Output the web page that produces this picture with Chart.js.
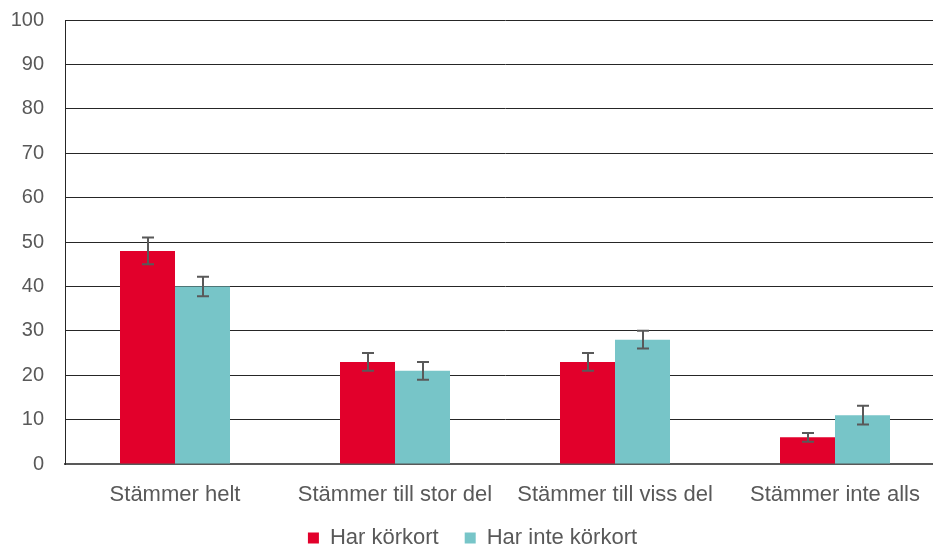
<!DOCTYPE html>
<html>
<head>
<meta charset="utf-8">
<script src="https://cdn.jsdelivr.net/npm/chart.js@4"></script>
<style>
    html, body { margin: 0; padding: 0; background: #fff; overflow: hidden; }
    #wrap { width: 945px; height: 549px; }
</style>
</head>
<body>
<div id="wrap"><canvas id="barChart"></canvas></div>
<script>
// Data
const categories = ['Stämmer helt', 'Stämmer till stor del', 'Stämmer till viss del', 'Stämmer inte alls'];
const seriesNames = ['Har körkort', 'Har inte körkort'];
const harKorkort = [48, 23, 23, 6];
const harKorkortErr = [3, 2, 2, 1];
const harInteKorkort = [40, 21, 28, 11];
const harInteKorkortErr = [2.2, 2, 2, 2.1];
const yTicks = [0, 10, 20, 30, 40, 50, 60, 70, 80, 90, 100];

const textColor = '#595959';
const fontFamily = 'Liberation Sans, Arial, sans-serif';

// Draw error bars using the chart's own scales
const errorBars = {
    id: 'errorBars',
    afterDatasetsDraw(chart) {
        const ctx = chart.ctx;
        const yScale = chart.scales.y;
        ctx.save();
        ctx.strokeStyle = '#595959';
        ctx.lineWidth = 2;
        chart.data.datasets.forEach(function (ds, i) {
            const meta = chart.getDatasetMeta(i);
            meta.data.forEach(function (bar, j) {
                const v = ds.data[j];
                const e = ds.errors[j];
                const yTop = yScale.getPixelForValue(v + e);
                const yBot = yScale.getPixelForValue(v - e);
                const x = Math.round(bar.x);
                ctx.beginPath();
                ctx.moveTo(x, yTop);
                ctx.lineTo(x, yBot);
                ctx.moveTo(x - 6, yTop);
                ctx.lineTo(x + 6, yTop);
                ctx.moveTo(x - 6, yBot);
                ctx.lineTo(x + 6, yBot);
                ctx.stroke();
            });
        });
        ctx.restore();
    }
};

document.addEventListener("DOMContentLoaded", function () {
    const barCtx = document.getElementById('barChart').getContext('2d');

    new Chart(barCtx, {
        type: 'bar',
        data: {
            labels: categories,
            datasets: [{
                label: seriesNames[0],
                data: harKorkort,
                errors: harKorkortErr,
                backgroundColor: '#E2002B',
                categoryPercentage: 0.5,
                barPercentage: 1
            }, {
                label: seriesNames[1],
                data: harInteKorkort,
                errors: harInteKorkortErr,
                backgroundColor: '#77C5C8',
                categoryPercentage: 0.5,
                barPercentage: 1
            }]
        },
        options: {
            responsive: true,
            maintainAspectRatio: false,
            animation: false,
            layout: { padding: { top: 20, left: 0, right: 0, bottom: 0 } },
            plugins: {
                tooltip: { enabled: false },
                legend: {
                    position: 'bottom',
                    maxHeight: 48,
                    labels: {
                        color: textColor,
                        boxWidth: 11,
                        boxHeight: 11,
                        padding: 26,
                        font: { size: 22, family: fontFamily }
                    }
                }
            },
            scales: {
                x: {
                    grid: { display: false },
                    border: { display: true, color: '#595959', width: 2 },
                    afterFit: function (axis) { axis.height = 37; },
                    ticks: {
                        color: textColor,
                        padding: 10,
                        maxRotation: 0,
                        font: { size: 22, family: fontFamily }
                    }
                },
                y: {
                    min: 0,
                    max: 100,
                    afterFit: function (axis) {
                        axis.width = 65;
                        axis.paddingTop = 0;
                        axis.paddingBottom = 0;
                    },
                    afterBuildTicks: function (axis) {
                        axis.ticks = yTicks.map(function (v) { return { value: v }; });
                    },
                    grid: { color: '#262626', lineWidth: 1, drawTicks: false },
                    border: { display: true, color: '#262626', width: 1 },
                    ticks: {
                        color: textColor,
                        padding: 21,
                        font: { size: 20, family: fontFamily }
                    }
                }
            }
        },
        plugins: [errorBars]
    });
});
</script>
</body>
</html>
